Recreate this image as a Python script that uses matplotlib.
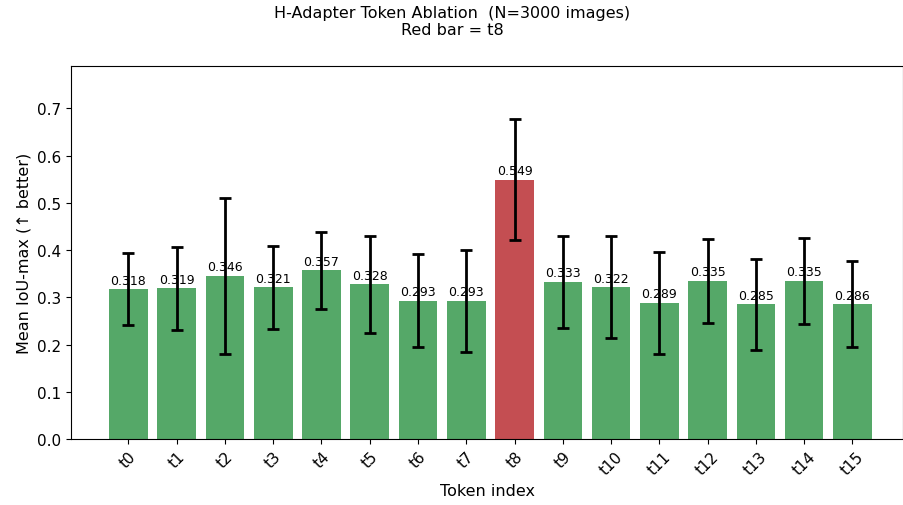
import matplotlib
matplotlib.use('Agg')
import matplotlib.pyplot as plt
import numpy as np

tokens = ['t%d' % i for i in range(16)]
means = [0.318, 0.319, 0.346, 0.321, 0.357, 0.328, 0.293, 0.293,
         0.549, 0.333, 0.322, 0.289, 0.335, 0.285, 0.335, 0.286]
stds = [0.076, 0.088, 0.165, 0.087, 0.082, 0.103, 0.098, 0.108,
        0.128, 0.097, 0.108, 0.108, 0.089, 0.096, 0.091, 0.091]
best = 't8'

fig = plt.figure(figsize=(9.04, 5.06), dpi=100)
ax = fig.add_axes([0.0785, 0.1304, 0.9205, 0.7372])

x = np.arange(len(tokens))
colors = ['#c44e52' if t == best else '#55a868' for t in tokens]
ax.bar(x, means, width=0.8, color=colors, yerr=stds, capsize=4,
       error_kw=dict(ecolor='black', elinewidth=2, capthick=2))

# value labels just above each bar
for xi, m in zip(x, means):
    ax.text(xi, m + 0.005, '%.3f' % m, ha='center', va='bottom', fontsize=9)

ax.set_xticks(x)
ax.set_xticklabels(tokens, rotation=45, fontsize=11)
ax.tick_params(axis='y', labelsize=11)
ax.set_xlim(-1.19, 16.05)
ax.set_ylim(0, 0.79)
ax.set_xlabel('Token index', fontsize=11.5)
ax.set_ylabel('Mean IoU-max (↑ better)', fontsize=11.5)
fig.suptitle('H-Adapter Token Ablation  (N=3000 images)\nRed bar = %s' % best,
             fontsize=11.5, y=0.988)

fig.savefig('out.png', dpi=100)
